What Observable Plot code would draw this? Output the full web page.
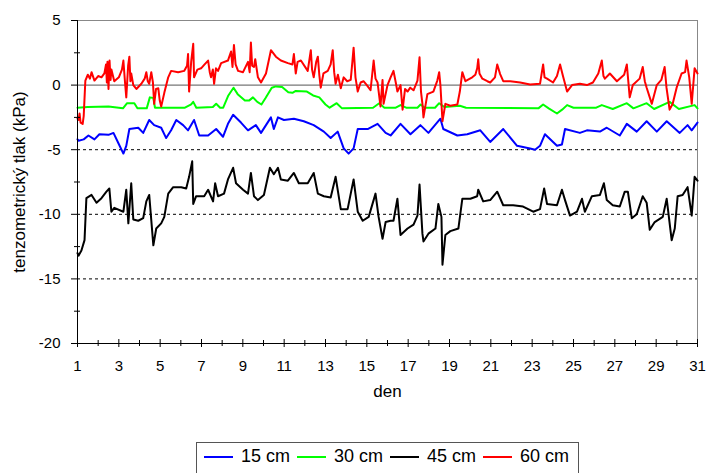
<!DOCTYPE html>
<html><head><meta charset="utf-8">
<script src="https://cdn.jsdelivr.net/npm/d3@7"></script>
<script src="https://cdn.jsdelivr.net/npm/@observablehq/plot@0.6"></script>
<style>
body{margin:0;background:#fff;font-family:"Liberation Sans",Arial,sans-serif;}
#wrap{position:relative;width:706px;height:473px;overflow:hidden;background:#fff}
#legend{position:absolute;left:196px;top:442px;width:383px;height:34px;border:1px solid #555;box-sizing:border-box;display:flex;align-items:center;padding:0 0 5px 7px;font-size:18px;color:#000;white-space:nowrap}
#legend .it{display:flex;align-items:center;margin-right:7px}
#legend .sw{display:inline-block;width:29px;height:2px;margin-right:8px}
</style></head><body><div id="wrap"></div>
<script>
const seriesNames = ["15 cm", "30 cm", "45 cm", "60 cm"];
const seriesColors = ["#0000ff", "#00ff00", "#000000", "#ff0000"];

const xTicks = [1,3,5,7,9,11,13,15,17,19,21,23,25,27,29,31];
const xMinor = [2,4,6,8,10,12,14,16,18,20,22,24,26,28,30];
const yTicks = [-20,-15,-10,-5,0,5];
const yMinor = [-17.5,-12.5,-7.5,-2.5,2.5];
const dashedLevels = [-5,-10,-15];

// [day, kPa] readings per depth
const depth15 = [[1.0,-4.2],[1.05,-4.3],[1.3,-4.2],[1.53,-3.9],[1.82,-4.2],[2.06,-3.8],[2.5,-3.85],[2.74,-3.7],[2.98,-4.5],[3.22,-5.3],[3.36,-4.7],[3.51,-3.4],[3.94,-3.3],[4.18,-3.7],[4.47,-2.7],[4.71,-3.1],[5.05,-3.3],[5.29,-4.1],[5.53,-3.5],[5.78,-2.7],[6.11,-3.1],[6.35,-3.5],[6.64,-2.7],[6.89,-3.9],[7.32,-3.9],[7.71,-3.4],[8.04,-4.0],[8.28,-3.0],[8.53,-2.3],[8.91,-2.9],[9.25,-3.5],[9.63,-3.1],[9.88,-3.7],[10.36,-2.5],[10.5,-3.4],[10.7,-2.5],[10.99,-2.7],[11.47,-2.6],[11.95,-2.8],[12.43,-3.1],[12.92,-3.6],[13.25,-4.1],[13.59,-3.6],[13.88,-4.9],[14.12,-5.3],[14.36,-4.9],[14.56,-3.4],[15.04,-3.4],[15.52,-3.0],[15.91,-3.7],[16.15,-3.9],[16.63,-3.0],[17.11,-3.8],[17.59,-3.1],[17.98,-3.7],[18.56,-2.6],[18.7,-3.4],[19.38,-3.9],[19.86,-3.8],[20.49,-3.5],[20.97,-4.4],[21.6,-3.4],[22.27,-4.7],[22.9,-4.9],[23.14,-5.0],[23.38,-4.7],[23.62,-3.8],[24.2,-4.7],[24.44,-4.6],[24.59,-3.4],[25.31,-3.7],[25.65,-3.5],[26.28,-3.6],[26.61,-3.3],[27.24,-3.9],[27.58,-3.0],[28.06,-3.6],[28.54,-2.8],[29.03,-3.6],[29.51,-2.8],[30.14,-3.7],[30.52,-3.1],[30.72,-3.5],[31.0,-2.9]];

const depth30 = [[1.0,-1.75],[1.5,-1.7],[2.5,-1.65],[3.2,-1.8],[3.4,-1.4],[3.75,-1.4],[3.9,-1.8],[4.35,-1.8],[4.5,-0.95],[4.67,-1.0],[4.75,-1.75],[6.2,-1.75],[6.5,-1.5],[6.6,-1.3],[6.75,-1.75],[7.55,-1.7],[7.71,-1.45],[7.9,-1.75],[8.05,-1.75],[8.3,-0.8],[8.55,-0.2],[8.75,-0.7],[9.1,-1.2],[9.3,-1.2],[9.49,-0.95],[9.7,-1.3],[9.9,-1.5],[10.1,-1.0],[10.4,-0.2],[10.6,-0.1],[10.9,-0.15],[11.2,-0.55],[11.4,-0.6],[11.56,-0.45],[12.1,-0.5],[12.4,-0.8],[12.7,-0.95],[13.0,-1.5],[13.2,-1.75],[13.54,-1.4],[13.8,-1.8],[15.3,-1.75],[15.6,-1.4],[15.85,-1.75],[16.4,-1.75],[16.63,-1.55],[16.9,-1.75],[17.45,-1.75],[17.6,-1.5],[17.8,-1.75],[18.3,-1.75],[18.5,-1.4],[18.75,-1.7],[19.5,-1.6],[19.8,-1.75],[23.3,-1.8],[23.53,-1.5],[23.8,-1.8],[24.2,-2.2],[24.45,-1.9],[24.69,-1.55],[25.0,-1.75],[26.1,-1.75],[26.37,-1.55],[26.9,-1.85],[27.58,-1.4],[27.9,-1.8],[28.54,-1.4],[28.9,-1.85],[29.65,-1.3],[30.1,-1.85],[30.86,-1.55],[31.0,-1.8]];

const depth45 = [[1.0,-13.0],[1.05,-13.2],[1.19,-12.8],[1.34,-12.0],[1.43,-8.75],[1.68,-8.5],[1.92,-9.1],[2.16,-8.75],[2.4,-8.25],[2.54,-8.0],[2.64,-9.8],[2.78,-9.5],[3.22,-9.8],[3.36,-8.1],[3.46,-10.7],[3.6,-7.6],[3.7,-10.4],[3.94,-10.5],[4.18,-10.3],[4.33,-9.0],[4.47,-8.5],[4.67,-12.4],[4.81,-11.1],[5.05,-10.7],[5.2,-10.2],[5.39,-8.4],[5.63,-7.9],[6.02,-7.9],[6.26,-8.0],[6.4,-7.1],[6.55,-5.9],[6.6,-9.2],[6.74,-8.6],[7.13,-8.6],[7.32,-8.1],[7.56,-9.0],[7.66,-7.6],[7.8,-8.6],[8.09,-8.4],[8.28,-7.3],[8.53,-6.4],[8.67,-7.6],[9.01,-8.1],[9.25,-8.4],[9.39,-6.8],[9.54,-8.6],[9.73,-8.9],[10.02,-8.5],[10.31,-6.4],[10.5,-6.9],[10.7,-6.4],[10.84,-7.3],[11.18,-7.4],[11.47,-6.8],[11.71,-7.6],[12.14,-7.6],[12.43,-6.8],[12.63,-8.4],[12.92,-8.6],[13.25,-8.7],[13.49,-7.1],[13.74,-9.6],[14.07,-9.6],[14.36,-7.3],[14.56,-9.8],[14.8,-10.5],[15.09,-10.2],[15.42,-8.4],[15.57,-10.2],[15.76,-11.9],[15.91,-10.6],[16.15,-10.5],[16.29,-10.5],[16.48,-8.8],[16.63,-11.6],[16.97,-11.1],[17.26,-10.8],[17.45,-10.1],[17.55,-7.7],[17.69,-11.5],[17.74,-12.1],[17.98,-11.5],[18.32,-11.1],[18.46,-9.2],[18.61,-10.2],[18.66,-13.9],[18.8,-11.6],[19.04,-11.3],[19.43,-11.1],[19.62,-8.8],[20.01,-8.8],[20.34,-8.6],[20.39,-8.1],[20.63,-9.0],[20.97,-8.9],[21.31,-8.25],[21.6,-9.3],[22.08,-9.3],[22.56,-9.4],[23.05,-9.8],[23.38,-9.6],[23.58,-8.0],[23.72,-9.2],[24.2,-9.3],[24.44,-8.1],[24.59,-8.9],[24.83,-10.1],[25.17,-9.8],[25.41,-8.8],[25.55,-9.8],[25.89,-8.6],[26.28,-8.5],[26.47,-7.6],[26.61,-8.9],[26.9,-9.3],[27.24,-9.4],[27.48,-8.25],[27.63,-8.25],[27.82,-10.3],[28.06,-10.0],[28.35,-8.6],[28.54,-9.1],[28.69,-11.2],[28.93,-10.6],[29.32,-10.2],[29.51,-8.8],[29.75,-12.0],[29.9,-11.1],[30.04,-8.6],[30.28,-8.5],[30.52,-7.9],[30.72,-10.1],[30.86,-7.1],[31.0,-7.4]];

const depth60 = [[1.0,-2.6],[1.05,-2.7],[1.1,-2.2],[1.15,-2.9],[1.25,-3.0],[1.3,-2.4],[1.38,0.35],[1.5,0.8],[1.6,0.5],[1.68,1.0],[1.82,0.35],[2.0,0.7],[2.16,0.6],[2.3,0.9],[2.38,1.6],[2.42,0.2],[2.45,1.8],[2.5,-0.3],[2.55,1.9],[2.6,0.4],[2.64,1.2],[2.78,0.3],[3.0,0.6],[3.15,1.2],[3.22,1.9],[3.3,0.2],[3.36,-0.95],[3.45,1.5],[3.51,2.2],[3.56,0.3],[3.6,0.9],[3.7,0.0],[3.85,-0.3],[4.09,0.1],[4.25,0.5],[4.33,1.0],[4.4,0.3],[4.47,0.1],[4.57,1.0],[4.65,0.2],[4.71,-1.45],[4.8,-0.3],[4.91,-0.25],[4.98,-1.2],[5.05,-1.65],[5.2,-0.6],[5.39,0.6],[5.53,1.1],[5.87,1.0],[6.16,1.1],[6.3,1.5],[6.35,2.4],[6.4,-0.5],[6.5,1.8],[6.6,3.2],[6.64,0.6],[6.8,1.2],[6.98,1.3],[7.15,1.6],[7.32,1.9],[7.4,1.0],[7.46,0.6],[7.55,1.2],[7.61,0.1],[7.7,1.3],[7.8,1.1],[7.95,1.7],[8.28,1.9],[8.43,2.6],[8.5,1.4],[8.57,3.1],[8.65,1.6],[8.77,1.1],[9.01,1.0],[9.25,1.8],[9.33,1.0],[9.39,3.3],[9.45,1.5],[9.54,1.4],[9.6,2.0],[9.73,0.6],[9.88,0.2],[10.12,0.9],[10.36,2.7],[10.6,2.2],[10.84,1.9],[11.18,1.7],[11.4,1.6],[11.47,2.4],[11.56,0.9],[11.65,1.8],[11.81,1.9],[12.14,1.1],[12.29,2.7],[12.35,1.2],[12.43,0.6],[12.55,1.8],[12.63,2.2],[12.7,0.8],[12.77,-0.2],[12.9,0.9],[13.11,1.1],[13.25,1.6],[13.35,2.7],[13.42,1.0],[13.49,0.1],[13.6,0.8],[13.74,-0.25],[13.88,0.6],[14.05,0.3],[14.22,0.4],[14.3,1.8],[14.36,2.9],[14.45,0.6],[14.56,-0.5],[14.7,0.2],[14.84,0.3],[15.0,0.0],[15.18,-0.4],[15.33,1.9],[15.42,0.5],[15.52,0.2],[15.66,-1.65],[15.76,0.4],[15.81,-1.45],[16.0,0.0],[16.15,0.6],[16.29,1.1],[16.4,0.2],[16.48,-0.5],[16.63,0.0],[16.73,-1.9],[16.85,-0.3],[16.97,-0.5],[17.1,-0.2],[17.26,-0.4],[17.45,0.35],[17.55,2.15],[17.62,-0.5],[17.69,-1.45],[17.74,-2.5],[17.93,-0.7],[18.22,-0.5],[18.41,0.35],[18.5,1.0],[18.56,0.0],[18.66,-2.8],[18.8,-1.45],[19.04,-1.6],[19.38,-1.5],[19.5,-0.5],[19.62,1.0],[19.77,0.3],[20.1,0.6],[20.25,0.8],[20.34,1.3],[20.39,2.0],[20.45,0.9],[20.59,0.5],[20.83,0.3],[20.97,0.2],[21.2,0.6],[21.31,1.6],[21.45,0.85],[21.6,0.3],[21.94,0.3],[22.42,0.2],[22.9,0.05],[23.38,0.1],[23.53,1.6],[23.6,0.6],[23.72,0.5],[24.01,0.2],[24.2,0.7],[24.35,1.6],[24.49,0.7],[24.69,-0.5],[24.93,0.0],[25.31,0.1],[25.65,0.0],[25.94,0.2],[26.2,0.9],[26.37,1.9],[26.45,0.7],[26.52,0.5],[26.76,0.9],[27.1,0.3],[27.45,0.8],[27.58,1.6],[27.72,-0.95],[27.87,0.0],[28.2,0.5],[28.35,1.4],[28.45,0.3],[28.54,-0.2],[28.79,-1.45],[29.03,0.0],[29.25,0.4],[29.41,1.4],[29.5,-0.2],[29.65,-1.9],[29.8,-1.45],[29.99,-0.2],[30.23,0.9],[30.4,1.0],[30.47,1.9],[30.6,0.6],[30.72,-1.45],[30.86,1.3],[31.0,0.9]];

const seriesData = [depth15, depth30, depth45, depth60];
const rows = seriesNames.flatMap((s, i) => seriesData[i].map(([d, v]) => ({day: d, kpa: v, series: s})));

const chart = Plot.plot({
  width: 706,
  height: 410,
  marginLeft: 77,
  marginRight: 9,
  marginTop: 20,
  marginBottom: 67,
  style: {fontFamily: "'Liberation Sans', Arial, sans-serif", fontSize: "15px", color: "#000", background: "#fff"},
  x: {domain: [1, 31], label: null},
  y: {domain: [-20, 5], label: null},
  color: {domain: seriesNames, range: seriesColors},
  marks: [
    Plot.ruleY(dashedLevels, {stroke: "#000", strokeDasharray: "3,3", strokeWidth: 1}),
    Plot.ruleY([0], {stroke: "#555", strokeWidth: 1}),
    Plot.ruleY([5], {stroke: "#888", strokeWidth: 1}),
    Plot.ruleX([31], {stroke: "#888", strokeWidth: 1}),
    Plot.line(rows, {x: "day", y: "kpa", z: "series", stroke: "series", strokeWidth: 2}),
    Plot.ruleX([1], {stroke: "#000", strokeWidth: 1}),
    Plot.ruleY([-20], {stroke: "#000", strokeWidth: 1}),
    Plot.axisY({ticks: yTicks, tickSize: 6, tickFormat: () => "", label: null}),
    Plot.axisY({ticks: yMinor, tickSize: 6, dx: 3, tickFormat: () => "", label: null}),
    Plot.axisY({ticks: yTicks, tickSize: 0, tickPadding: 17, tickFormat: d => String(d), label: null, fontSize: 15}),
    Plot.axisX({ticks: xTicks, tickSize: 8, dy: -4, tickFormat: () => "", label: null}),
    Plot.axisX({ticks: xMinor, tickSize: 6, dy: -3, tickFormat: () => "", label: null}),
    Plot.axisX({ticks: xTicks, tickSize: 0, tickPadding: 17, tickFormat: d => String(d), label: null, fontSize: 15}),
    Plot.text(["den"], {text: d => d, frameAnchor: "bottom", dy: 53, fontSize: 17}),
    Plot.text(["tenzometrický tlak (kPa)"], {text: d => d, frameAnchor: "left", dx: -58, rotate: -90, textAnchor: "middle", fontSize: 17})
  ]
});

const wrap = document.getElementById("wrap");
wrap.appendChild(chart);
const legend = document.createElement("div");
legend.id = "legend";
seriesNames.forEach((s, i) => {
  const it = document.createElement("span");
  it.className = "it";
  const sw = document.createElement("span");
  sw.className = "sw";
  sw.style.background = seriesColors[i];
  it.appendChild(sw);
  it.appendChild(document.createTextNode(s));
  legend.appendChild(it);
});
wrap.appendChild(legend);
</script>
</body></html>
